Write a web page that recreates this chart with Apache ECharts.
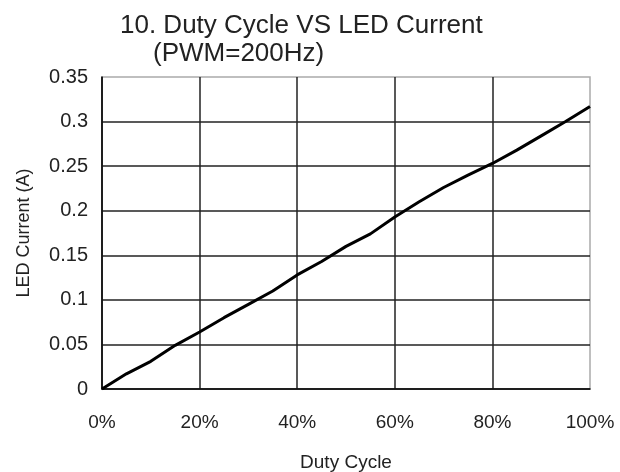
<!DOCTYPE html>
<html>
<head>
<meta charset="utf-8">
<script src="https://cdn.jsdelivr.net/npm/echarts@6/dist/echarts.min.js"></script>
<style>
  html, body { margin: 0; padding: 0; background: #fff; }
  #chart { width: 620px; height: 472px; }
</style>
</head>
<body>
<div id="chart"></div>
<script>
// duty cycle in %, every 5%
var dutyCycle = [0, 5, 10, 15, 20, 25, 30, 35, 40, 45, 50, 55, 60, 65, 70, 75, 80, 85, 90, 95, 100];
var ledCurrent = [0, 0.017, 0.031, 0.049, 0.064, 0.080, 0.095, 0.110, 0.128, 0.143, 0.160, 0.174,
                  0.193, 0.210, 0.226, 0.240, 0.253, 0.268, 0.284, 0.300, 0.317];
var xTicks = [0, 20, 40, 60, 80, 100];
var yTicks = [0, 0.05, 0.1, 0.15, 0.2, 0.25, 0.3, 0.35];

var font = "Liberation Sans, Arial, sans-serif";
var chart = echarts.init(document.getElementById("chart"));

var option = {
  animation: false,
  backgroundColor: "#fff",
  title: [
    {
      text: "10. Duty Cycle VS LED Current",
      left: 115, top: 8,
      textStyle: { fontFamily: font, fontSize: 26, fontWeight: "normal", color: "#222" }
    },
    {
      text: "(PWM=200Hz)",
      left: 148, top: 36,
      textStyle: { fontFamily: font, fontSize: 26, fontWeight: "normal", color: "#222" }
    }
  ],
  grid: {
    left: 102, right: 30, top: 77, bottom: 83,
    outerBoundsMode: "none",
    containLabel: false,
    show: true, borderColor: "#aaa", borderWidth: 1.5
  },
  xAxis: {
    type: "value",
    min: xTicks[0], max: xTicks[xTicks.length - 1], interval: 20,
    name: "Duty Cycle",
    nameLocation: "middle",
    nameGap: 64,
    nameTextStyle: { fontFamily: font, fontSize: 19, color: "#222" },
    axisLine: { show: true, onZero: false, lineStyle: { color: "#111", width: 1.5 } },
    axisTick: { show: false },
    axisLabel: {
      margin: 24,
      formatter: "{value}%",
      fontFamily: font, fontSize: 19, color: "#222"
    },
    splitLine: { show: true, showMaxLine: false, lineStyle: { color: "#222", width: 1.5 } }
  },
  yAxis: {
    type: "value",
    min: yTicks[0], max: yTicks[yTicks.length - 1], interval: 0.05,
    name: "LED Current (A)",
    nameLocation: "middle",
    nameGap: 69,
    nameTextStyle: { fontFamily: font, fontSize: 18, color: "#222" },
    axisLine: { show: true, onZero: false, lineStyle: { color: "#111", width: 1.5 } },
    axisTick: { show: false },
    axisLabel: {
      margin: 14,
      fontFamily: font, fontSize: 20, color: "#222",
      formatter: function (v) { return String(+v.toFixed(2)); }
    },
    splitLine: { show: true, showMaxLine: false, lineStyle: { color: "#222", width: 1.5 } }
  },
  series: [
    {
      type: "line",
      data: dutyCycle.map(function (d, i) { return [d, ledCurrent[i]]; }),
      showSymbol: false,
      lineStyle: { color: "#000", width: 3 }
    }
  ]
};

chart.setOption(option);
</script>
</body>
</html>
